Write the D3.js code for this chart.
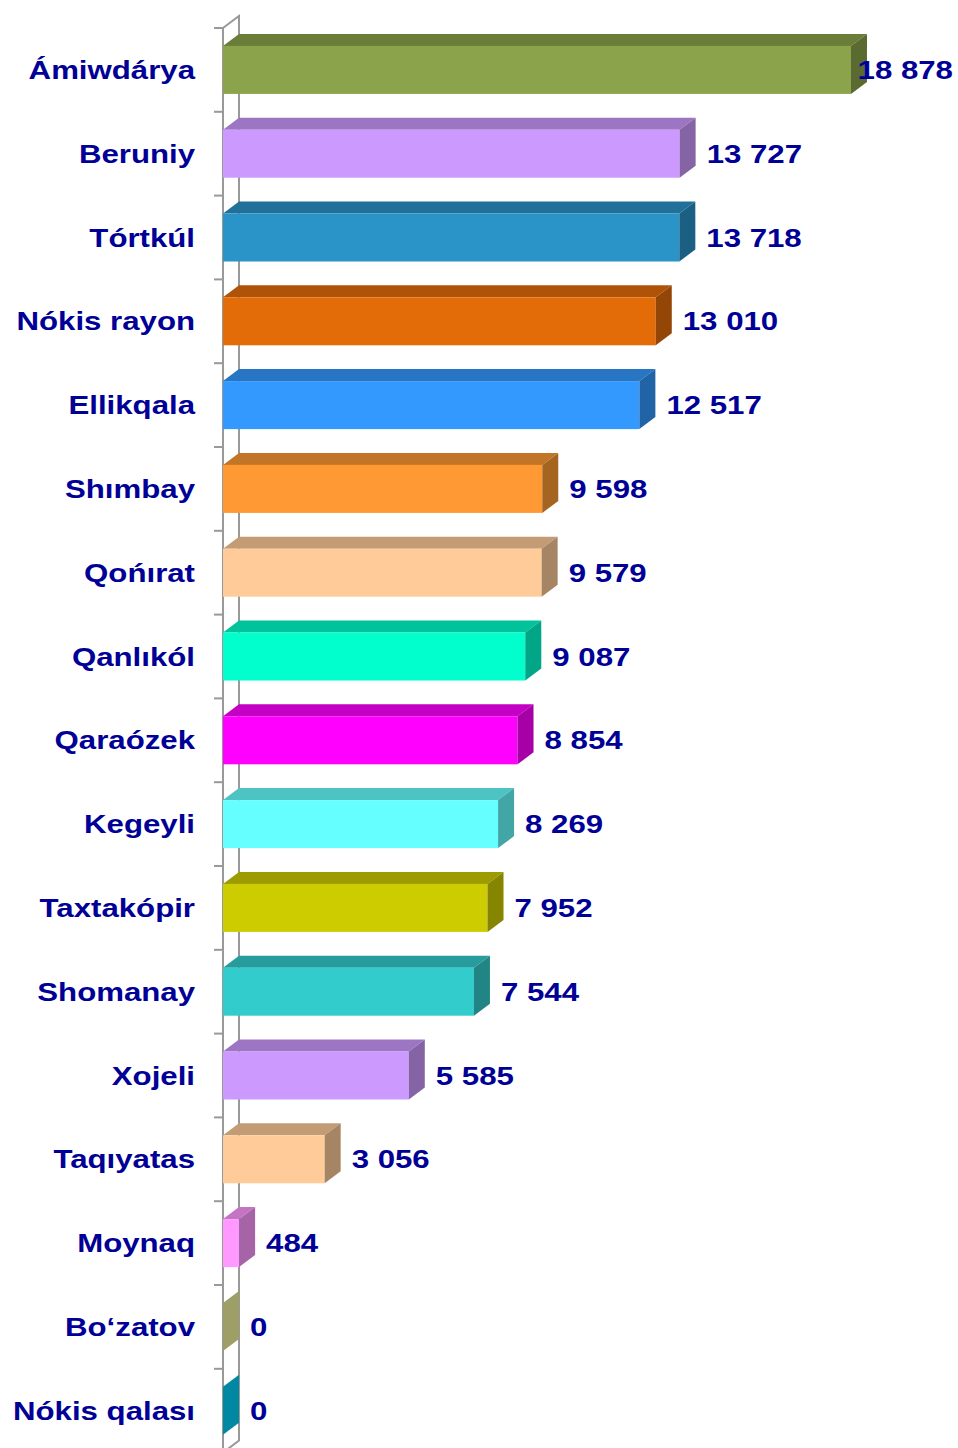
<!DOCTYPE html>
<html><head><meta charset="utf-8">
<script src="https://cdn.jsdelivr.net/npm/d3@7"></script>
<style>html,body{margin:0;padding:0;background:#fff;}svg{display:block;}</style>
</head><body>
<svg id="chart" width="958" height="1448"></svg>
<script>
const categories = ["Ámiwdárya","Beruniy","Tórtkúl","Nókis rayon","Ellikqala","Shımbay","Qońırat","Qanlıkól","Qaraózek","Kegeyli","Taxtakópir","Shomanay","Xojeli","Taqıyatas","Moynaq","Bo‘zatov","Nókis qalası"];
const values = [18878,13727,13718,13010,12517,9598,9579,9087,8854,8269,7952,7544,5585,3056,484,0,0];
const barColors = ["#8BA34B","#CC99FF","#2A93C8","#E36C09","#3399FF","#FF9933","#FFCC99","#00FFCC","#FF00FF","#66FFFF","#CCCC00","#33CCCC","#CC99FF","#FFCC99","#FF99FF","#F2F29E","#00CFF9"];
const xDomain = [0, 20000];

const svg = d3.select("#chart");
const W = 958, H = 1448;
const depthX = 16, depthY = -12;
const x = d3.scaleLinear().domain(xDomain).range([223, 888.3]);
const y = d3.scaleBand().domain(categories).range([28, 1452.6]).paddingInner(0.427).paddingOuter(0.2135);
const band = y.step();
const yTop = 28, yBot = 1452.6;
const x0 = x(0);
const fmt = d3.formatLocale({decimal: ".", thousands: " ", grouping: [3], currency: ["", ""]}).format(",");
const textColor = "#000096";
const sx = 1.2;
const fs = 26;

// wall
const wall = svg.append("g").attr("stroke", "#999").attr("stroke-width", 2).attr("fill", "none");
wall.append("path").attr("d", `M${x0},${yBot}L${x0},${yTop}L${x0+depthX},${yTop+depthY}L${x0+depthX},${yBot+depthY}L${x0},${yBot}`);
const tickYs = d3.range(categories.length + 1).map(i => yTop + i * band);
wall.selectAll("line.tick").data(tickYs).join("line").attr("class", "tick")
  .attr("x1", x0 - 9).attr("x2", x0).attr("y1", d => d).attr("y2", d => d);

// bars
const bars = svg.append("g").selectAll("g").data(categories).join("g");
bars.each(function(c, i) {
  const g = d3.select(this);
  const v = values[i];
  const base = d3.color(barColors[i]);
  const top = base.darker(0.75).formatHex();
  const side = base.darker(1.2).formatHex();
  const xe = x(v), yt = y(c), yb = yt + y.bandwidth();
  if (xe > x0) {
    g.append("path").attr("fill", top)
      .attr("d", `M${x0},${yt}L${x0+depthX},${yt+depthY}L${xe+depthX},${yt+depthY}L${xe},${yt}Z`);
    g.append("rect").attr("x", x0).attr("y", yt).attr("width", xe - x0).attr("height", yb - yt).attr("fill", base.formatHex());
  }
  g.append("path").attr("fill", side)
    .attr("d", `M${xe},${yt}L${xe+depthX},${yt+depthY}L${xe+depthX},${yb+depthY}L${xe},${yb}Z`);
});

// category labels
svg.append("g").selectAll("text").data(categories).join("text")
  .attr("transform", c => `translate(195,${y(c) + y.bandwidth()/2}) scale(${sx},1)`)
  .attr("dy", "0.35em").attr("text-anchor", "end")
  .attr("font-family", "'Liberation Sans', Arial, sans-serif").attr("font-weight", "bold")
  .attr("font-size", fs).attr("fill", textColor)
  .text(c => c);

// value labels
const vl = svg.append("g").selectAll("text").data(categories).join("text")
  .attr("dy", "0.35em").attr("text-anchor", "start")
  .attr("font-family", "'Liberation Sans', Arial, sans-serif").attr("font-weight", "bold")
  .attr("font-size", fs).attr("fill", textColor)
  .text((c, i) => fmt(values[i]));
vl.each(function(c, i) {
  const w = this.getComputedTextLength() * sx;
  let xs = x(values[i]) + 27;
  if (xs + w > W - 5) xs = W - 5 - w;
  d3.select(this).attr("transform", `translate(${xs},${y(c) + y.bandwidth()/2}) scale(${sx},1)`);
});
</script>
</body></html>
